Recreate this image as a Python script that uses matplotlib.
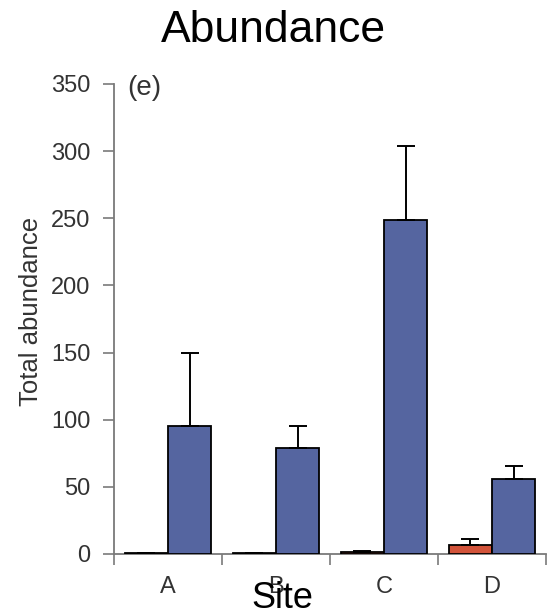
import matplotlib
matplotlib.use("Agg")
import matplotlib.pyplot as plt
import numpy as np

plt.rcParams['font.family'] = ['Liberation Sans', 'DejaVu Sans']

# Sites and per-group abundance (means with upper standard errors)
sites = ["A", "B", "C", "D"]
red_means = [1.0, 1.0, 1.5, 7.0]
red_err = [0.0, 0.0, 1.0, 4.0]
blue_means = [95.0, 79.0, 249.0, 56.0]
blue_err = [55.0, 16.0, 55.0, 9.5]
y_ticks = [0, 50, 100, 150, 200, 250, 300, 350]

RED = "#d2533a"
BLUE = "#5565a0"
AXIS_GRAY = "#7a7a7a"

W, H = 547, 616
fig = plt.figure(figsize=(W / 100, H / 100), dpi=100)
ax = fig.add_axes([114 / W, (H - 554) / H, (546 - 114) / W, (554 - 84) / H])

x = np.arange(len(sites))
width = 0.4
ekw = dict(elinewidth=1.4, capthick=1.4, ecolor="black")
ax.bar(x + 0.3, red_means, width, color=RED, edgecolor="black", linewidth=1.3,
       yerr=[np.zeros(len(sites)), red_err], capsize=6.5, error_kw=ekw, zorder=3)
ax.bar(x + 0.7, blue_means, width, color=BLUE, edgecolor="black", linewidth=1.3,
       yerr=[np.zeros(len(sites)), blue_err], capsize=6.5, error_kw=ekw, zorder=3)

ax.set_xlim(0, len(sites))
ax.set_ylim(0, 350)

# Group boundaries as major ticks, site names as minor tick labels
ax.set_xticks(np.arange(len(sites) + 1))
ax.set_xticklabels([])
ax.set_xticks(x + 0.5, minor=True)
ax.set_xticklabels(sites, minor=True)
ax.tick_params(axis="x", which="major", direction="out", length=8, width=1.2, color=AXIS_GRAY)
ax.tick_params(axis="x", which="minor", length=0, pad=16, labelsize=17, labelcolor="#333333")

ax.set_yticks(y_ticks)
ax.tick_params(axis="y", direction="out", length=8, width=1.2, color=AXIS_GRAY,
               labelsize=17, labelcolor="#333333", pad=9)

for side in ["top", "right"]:
    ax.spines[side].set_visible(False)
for side in ["left", "bottom"]:
    ax.spines[side].set_color(AXIS_GRAY)
    ax.spines[side].set_linewidth(1.3)

ax.text(0.12, 347, "(e)", fontsize=20, color="#333333", va="center", ha="left")

fig.text(31 / W, 1 - 311 / H, "Total abundance", rotation=90, fontsize=18.5,
         color="#333333", ha="center", va="center")
fig.text(273 / W, 1 - 30 / H, "Abundance", fontsize=32, ha="center", va="center")
fig.text(282 / W, 1 - 598 / H, "Site", fontsize=26, ha="center", va="center")

fig.savefig("out.png", dpi=100)
